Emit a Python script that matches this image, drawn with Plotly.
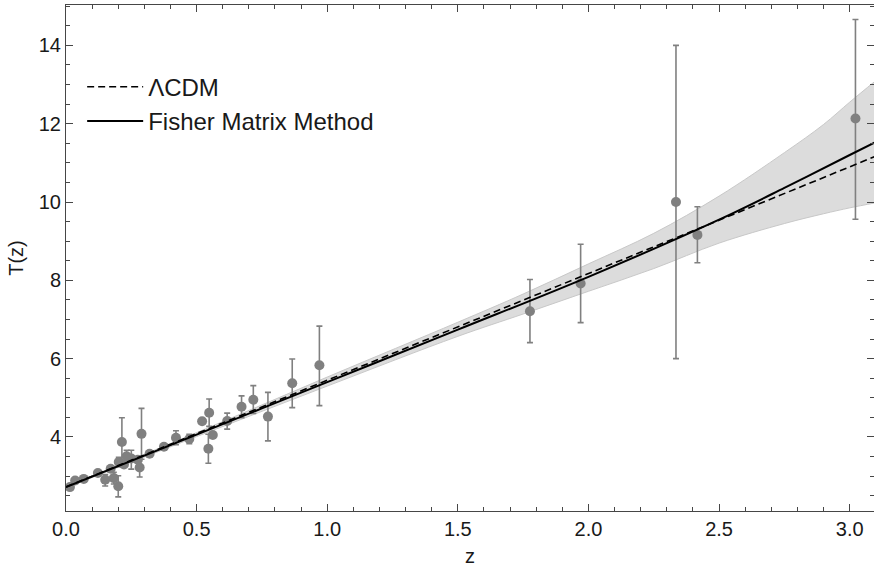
import plotly.graph_objects as go

z_obs = [0.015, 0.035, 0.068, 0.122, 0.150, 0.171, 0.183, 0.200, 0.202, 0.214,
         0.222, 0.232, 0.250, 0.275, 0.282, 0.289, 0.320, 0.375, 0.421, 0.472,
         0.521, 0.545, 0.548, 0.562, 0.617, 0.672, 0.717, 0.773, 0.866, 0.970,
         1.776, 1.970, 2.335, 2.417, 3.022]
T_obs = [2.72, 2.89, 2.93, 3.08, 2.91, 3.19, 2.95, 2.74, 3.36, 3.87,
         3.30, 3.51, 3.45, 3.42, 3.22, 4.08, 3.57, 3.75, 3.98, 3.95,
         4.40, 3.70, 4.62, 4.05, 4.41, 4.77, 4.95, 4.52, 5.37, 5.83,
         7.21, 7.92, 10.00, 9.16, 12.13]
err_plus = [0.06, 0.04, 0.03, 0.04, 0.13, 0.04, 0.15, 0.27, 0.12, 0.62,
            0.04, 0.15, 0.21, 0.04, 0.24, 0.65, 0.05, 0.06, 0.18, 0.12,
            0.05, 0.37, 0.35, 0.06, 0.20, 0.28, 0.36, 0.62, 0.62, 1.00,
            0.81, 1.00, 4.00, 0.72, 2.53]
err_minus = [0.06, 0.04, 0.03, 0.04, 0.16, 0.04, 0.15, 0.27, 0.12, 0.62,
             0.04, 0.15, 0.27, 0.04, 0.24, 0.65, 0.05, 0.06, 0.18, 0.12,
             0.05, 0.37, 0.35, 0.06, 0.21, 0.28, 0.35, 0.62, 0.62, 1.03,
             0.80, 1.00, 4.00, 0.71, 2.57]

# LambdaCDM reference line (read end points)
z_lcdm = [0.0, 3.1]
T_lcdm = [2.725, 11.17]

# Fisher matrix reconstruction
z_fm = [0.0, 0.5, 1.0, 1.5, 2.0, 2.5, 2.75, 3.0, 3.1]
T_fm = [2.72, 4.06, 5.40, 6.74, 8.09, 9.55, 10.36, 11.20, 11.53]

# Confidence band
z_band = [0.0, 0.5, 1.0, 1.5, 1.75, 2.0, 2.25, 2.5, 2.75, 2.9, 3.0, 3.1]
T_up = [2.74, 4.11, 5.53, 6.93, 7.65, 8.42, 9.20, 10.15, 11.26, 11.98, 12.55, 13.10]
T_lo = [2.70, 4.01, 5.30, 6.57, 7.14, 7.72, 8.30, 8.95, 9.45, 9.70, 9.85, 9.98]

FONT = "Liberation Sans, Arial, sans-serif"
AX = "rgb(70,70,70)"
TXT = "rgb(25,25,25)"

fig = go.Figure()

fig.add_trace(go.Scatter(x=z_band, y=T_lo, mode="lines", line=dict(color="rgb(200,200,200)", width=1, shape="spline"),
                         showlegend=False, hoverinfo="skip"))
fig.add_trace(go.Scatter(x=z_band, y=T_up, mode="lines", line=dict(color="rgb(200,200,200)", width=1, shape="spline"),
                         fill="tonexty", fillcolor="rgb(220,220,220)", showlegend=False, hoverinfo="skip"))

fig.add_trace(go.Scatter(x=z_obs, y=T_obs, mode="markers",
                         marker=dict(color="rgb(128,128,128)", size=10),
                         error_y=dict(type="data", array=err_plus, arrayminus=err_minus, symmetric=False,
                                      color="rgb(128,128,128)", thickness=1.6, width=3),
                         showlegend=False))

fig.add_trace(go.Scatter(x=z_lcdm, y=T_lcdm, mode="lines", name="ΛCDM",
                         line=dict(color="black", width=1.6, dash="7px,4px"), legendrank=1))
fig.add_trace(go.Scatter(x=z_fm, y=T_fm, mode="lines", name="Fisher Matrix Method",
                         line=dict(color="black", width=2, shape="spline"), legendrank=2))

axis_common = dict(showline=True, linecolor=AX, linewidth=1, mirror="ticks", ticks="inside",
                   tickcolor=AX, showgrid=False, zeroline=False, automargin=False,
                   tickfont=dict(family=FONT, size=20, color=TXT))

fig.update_xaxes(range=[0, 3.093], dtick=0.5, tick0=0, ticklen=7, tickformat=".1f",
                 minor=dict(dtick=0.1, ticklen=4, ticks="inside", tickcolor=AX, showgrid=False),
                 title=dict(text="z", font=dict(family=FONT, size=20, color=TXT), standoff=9),
                 **axis_common)
fig.update_yaxes(range=[2.11, 15.03], dtick=2, tick0=0, ticklen=7,
                 minor=dict(dtick=0.5, ticklen=4, ticks="inside", tickcolor=AX, showgrid=False),
                 title=dict(text="T(z)", font=dict(family=FONT, size=20, color=TXT), standoff=9),
                 **axis_common)

fig.update_layout(
    width=874, height=568,
    margin=dict(l=66, r=0, t=5, b=57),
    plot_bgcolor="white", paper_bgcolor="white",
    legend=dict(x=0.02, y=0.882, xanchor="left", yanchor="top", bgcolor="rgba(0,0,0,0)",
                font=dict(family=FONT, size=24, color=TXT),
                traceorder="normal", itemwidth=56, tracegroupgap=24),
)

fig.write_html("out.html", config={"displayModeBar": False},
               post_script="document.body.style.margin='0px';")
